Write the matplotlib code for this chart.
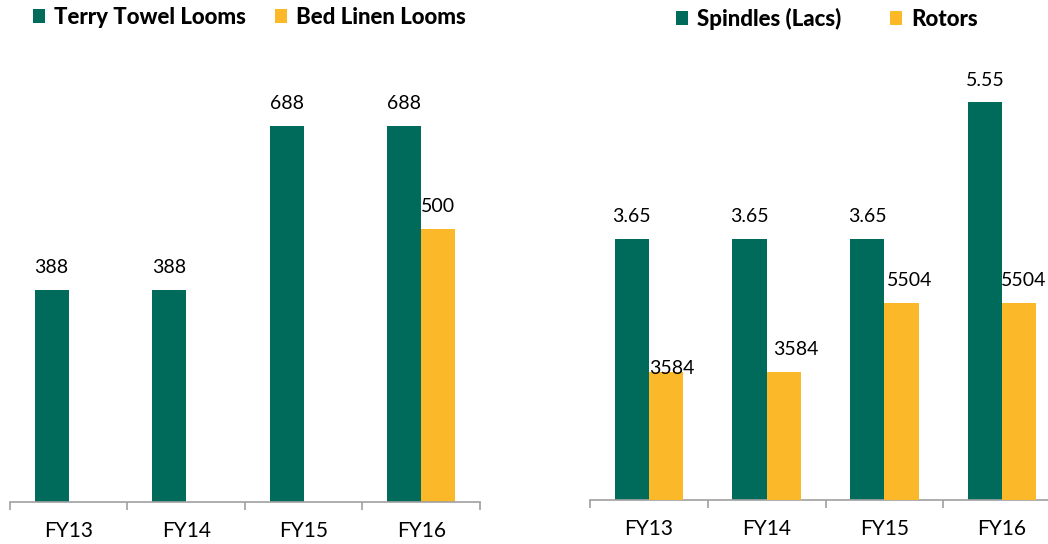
import matplotlib.pyplot as plt
import numpy as np

plt.rcParams['font.family'] = ['Lato', 'DejaVu Sans']

years = ['FY13', 'FY14', 'FY15', 'FY16']
terry_looms = [388, 388, 688, 688]
bed_linen_looms = [np.nan, np.nan, np.nan, 500]
spindles = [3.65, 3.65, 3.65, 5.55]
rotors = [3584, 3584, 5504, 5504]

green = '#006b5b'
yellow = '#fbb829'
spine_grey = '#a0a0a0'

# label nudges (points) for the rotor values, as in the original layout
rotor_offsets = [(4, -4), (9, 10), (6, 10), (3, 10)]

fig = plt.figure(figsize=(10.48, 5.44), dpi=100)
ax1 = fig.add_axes([0.0095, 0.0772, 0.4485, 0.803])
ax2 = fig.add_axes([0.563, 0.0809, 0.4494, 0.790])
ax3 = ax2.twinx()

x = np.arange(len(years))
w = 0.29


def style_axis(ax):
    for s in ['top', 'right', 'left']:
        ax.spines[s].set_visible(False)
    ax.spines['bottom'].set_color(spine_grey)
    ax.spines['bottom'].set_linewidth(1.2)
    ax.set_xlim(-0.5, len(years) - 0.5)
    ax.set_yticks([])
    ax.set_xticks(x)
    ax.set_xticklabels(years, fontsize=15)
    ax.set_xticks(np.arange(-0.5, len(years)), minor=True)
    ax.tick_params(axis='x', which='major', length=0, pad=14)
    ax.tick_params(axis='x', which='minor', length=6, width=1.2, color=spine_grey, direction='out')


legend_font = {'weight': 'black', 'size': 16}

# left chart: looms
b1 = ax1.bar(x - w / 2, terry_looms, w, color=green, label='Terry Towel Looms')
b2 = ax1.bar(x + w / 2, bed_linen_looms, w, color=yellow, label='Bed Linen Looms')
ax1.set_ylim(0, 800)
style_axis(ax1)
for xi, v in zip(x, terry_looms):
    ax1.annotate(f'{v}', (xi - w / 2, v), xytext=(0, 10), textcoords='offset points',
                 ha='center', va='bottom', fontsize=14)
for xi, v in zip(x, bed_linen_looms):
    if not np.isnan(v):
        ax1.annotate(f'{v:.0f}', (xi + w / 2, v), xytext=(0, 10), textcoords='offset points',
                     ha='center', va='bottom', fontsize=14)
ax1.legend(handles=[b1, b2], loc='upper left', bbox_to_anchor=(0.019, 1.012),
           bbox_transform=fig.transFigure, ncol=2, frameon=False,
           prop=legend_font, handlelength=0.55, handleheight=0.55,
           handletextpad=0.4, columnspacing=1.3, borderaxespad=0.2)

# right chart: spindles and rotors
b3 = ax2.bar(x - w / 2, spindles, w, color=green, label='Spindles (Lacs)')
b4 = ax3.bar(x + w / 2, rotors, w, color=yellow, label='Rotors')
ax2.set_ylim(0, 6)
ax3.set_ylim(0, 12000)
style_axis(ax2)
for s in ax3.spines.values():
    s.set_visible(False)
ax3.set_yticks([])
for xi, v in zip(x, spindles):
    ax2.annotate(f'{v:.2f}', (xi - w / 2, v), xytext=(0, 10), textcoords='offset points',
                 ha='center', va='bottom', fontsize=14)
for xi, v, off in zip(x, rotors, rotor_offsets):
    ax3.annotate(f'{v}', (xi + w / 2, v), xytext=off, textcoords='offset points',
                 ha='center', va='bottom', fontsize=14)
ax2.legend(handles=[b3, b4], loc='upper left', bbox_to_anchor=(0.632, 1.01),
           bbox_transform=fig.transFigure, ncol=2, frameon=False,
           prop=legend_font, handlelength=0.55, handleheight=0.55,
           handletextpad=0.4, columnspacing=2.2, borderaxespad=0.2)

plt.savefig('out.png', dpi=100)
plt.close()
